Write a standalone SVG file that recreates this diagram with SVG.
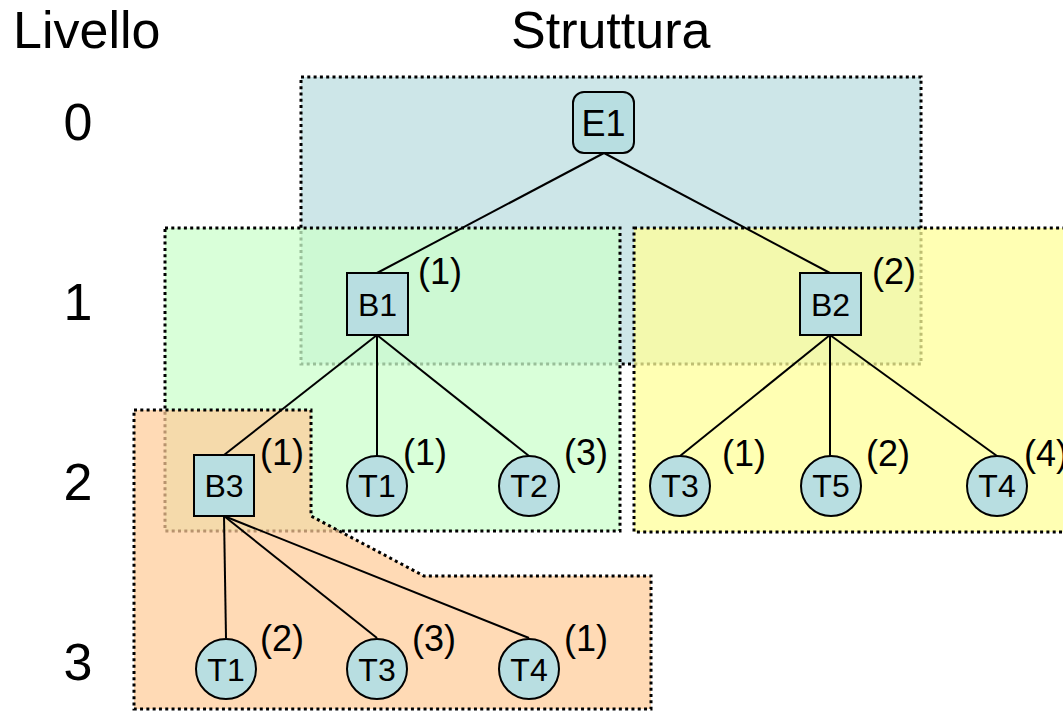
<svg xmlns="http://www.w3.org/2000/svg" width="1063" height="712" viewBox="0 0 1063 712">
<style>
  text { font-family: "Liberation Sans", Arial, sans-serif; fill: #000; }
  .title { font-size: 52px; }
  .lvl { font-size: 52px; text-anchor: middle; }
  .region { stroke: #000; stroke-width: 3; stroke-dasharray: 3 3.3; }
  .node { fill: #B8DEE1; stroke: #000; stroke-width: 2; }
  .nlabel { font-size: 32px; text-anchor: middle; }
  .ann { font-size: 36px; }
  .conn line { stroke: #000; stroke-width: 2; }
</style>
<rect width="1063" height="712" fill="#fff"/>
<text class="title" x="13" y="48">Livello</text>
<text class="title" x="511" y="48">Struttura</text>
<text class="lvl" x="78" y="140">0</text>
<text class="lvl" x="78" y="320">1</text>
<text class="lvl" x="78" y="500">2</text>
<text class="lvl" x="78" y="680">3</text>

<g id="regions">
  <rect id="region-blue" class="region" x="301" y="77" width="620" height="287" fill="#CDE6E8"/>
  <rect id="region-green" class="region" x="165" y="228" width="455" height="303" fill="#CCFFCC" fill-opacity="0.75"/>
  <rect id="region-yellow" class="region" x="634" y="228" width="440" height="304" fill="#FFFF99" fill-opacity="0.75"/>
  <polygon id="region-orange" class="region" points="134,410 311,410 311,516 424,576 651,576 651,709 134,709" fill="#FFCC99" fill-opacity="0.72"/>
</g>

<g class="conn" id="connectors">
  <line x1="604" y1="153" x2="377" y2="273"/>
  <line x1="604" y1="153" x2="830" y2="273"/>
  <line x1="377" y1="335" x2="224" y2="455"/>
  <line x1="377" y1="335" x2="377" y2="456"/>
  <line x1="377" y1="335" x2="529" y2="456"/>
  <line x1="830" y1="335" x2="680" y2="456"/>
  <line x1="830" y1="335" x2="830" y2="456"/>
  <line x1="830" y1="335" x2="997" y2="456"/>
  <line x1="224" y1="516" x2="226" y2="638"/>
  <line x1="224" y1="516" x2="377" y2="638"/>
  <line x1="224" y1="516" x2="529" y2="638"/>
</g>

<g id="E1">
  <rect class="node" x="573" y="92" width="61" height="61" rx="11"/>
  <text class="nlabel" x="603.5" y="136" style="font-size:36px">E1</text>
</g>
<g id="B1">
  <rect class="node" x="347" y="273" width="61" height="62"/>
  <text class="nlabel" x="377.5" y="316">B1</text>
  <text class="ann" x="418" y="284">(1)</text>
</g>
<g id="B2">
  <rect class="node" x="800" y="273" width="61" height="62"/>
  <text class="nlabel" x="830.5" y="316">B2</text>
  <text class="ann" x="872" y="284">(2)</text>
</g>
<g id="B3">
  <rect class="node" x="194" y="455" width="60" height="61"/>
  <text class="nlabel" x="224" y="497">B3</text>
  <text class="ann" x="260" y="465">(1)</text>
</g>
<g id="T1a">
  <circle class="node" cx="377" cy="486" r="30"/>
  <text class="nlabel" x="377" y="497">T1</text>
  <text class="ann" x="403" y="465">(1)</text>
</g>
<g id="T2">
  <circle class="node" cx="529" cy="486" r="30"/>
  <text class="nlabel" x="529" y="497">T2</text>
  <text class="ann" x="564" y="465">(3)</text>
</g>
<g id="T3a">
  <circle class="node" cx="680" cy="486" r="30"/>
  <text class="nlabel" x="680" y="497">T3</text>
  <text class="ann" x="722" y="466">(1)</text>
</g>
<g id="T5">
  <circle class="node" cx="831" cy="486" r="30"/>
  <text class="nlabel" x="831" y="497">T5</text>
  <text class="ann" x="866" y="466">(2)</text>
</g>
<g id="T4a">
  <circle class="node" cx="997" cy="486" r="30"/>
  <text class="nlabel" x="997" y="497">T4</text>
  <text class="ann" x="1024" y="466">(4)</text>
</g>
<g id="T1b">
  <circle class="node" cx="226" cy="669" r="30"/>
  <text class="nlabel" x="226" y="681">T1</text>
  <text class="ann" x="260" y="651">(2)</text>
</g>
<g id="T3b">
  <circle class="node" cx="377" cy="669" r="30"/>
  <text class="nlabel" x="377" y="681">T3</text>
  <text class="ann" x="412" y="651">(3)</text>
</g>
<g id="T4b">
  <circle class="node" cx="529" cy="669" r="30"/>
  <text class="nlabel" x="529" y="681">T4</text>
  <text class="ann" x="564" y="651">(1)</text>
</g>
</svg>
